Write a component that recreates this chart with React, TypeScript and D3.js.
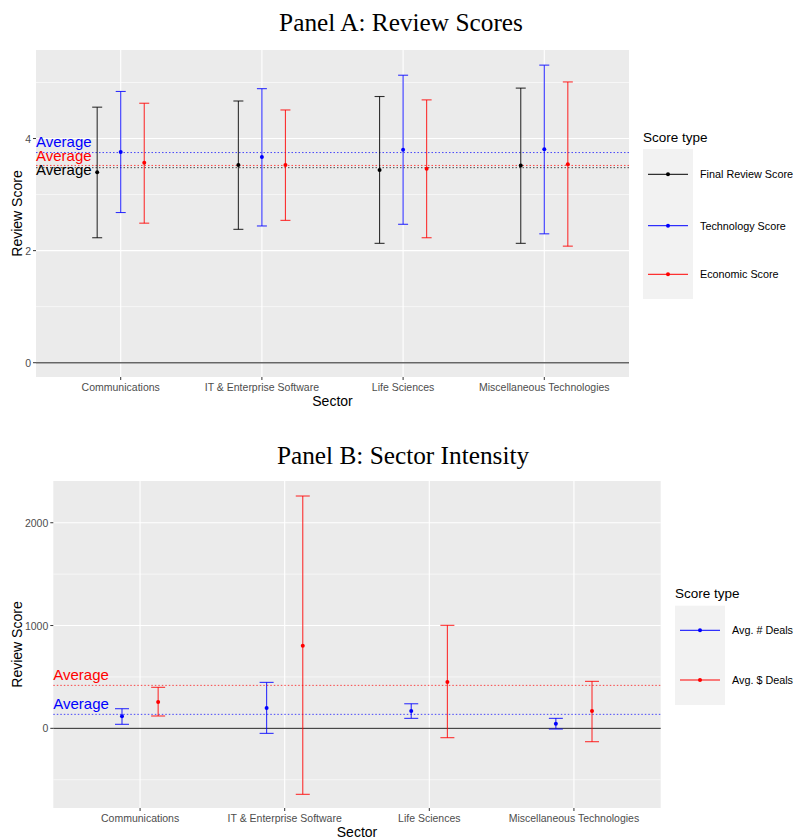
import * as d3 from "d3";
import React from "react";

// sectors on the x axis (both panels)
const sectors = [
  "Communications",
  "IT & Enterprise Software",
  "Life Sciences",
  "Miscellaneous Technologies",
];

// Panel A: review scores (mean, lower, upper)
const scoreTypes = ["Final Review Score", "Technology Score", "Economic Score"];
const scoreColors = ["black", "blue", "red"];
const finalMean = [3.4, 3.53, 3.44, 3.52];
const finalLow = [2.23, 2.38, 2.13, 2.13];
const finalHigh = [4.56, 4.67, 4.75, 4.9];
const techMean = [3.76, 3.67, 3.8, 3.81];
const techLow = [2.68, 2.44, 2.47, 2.3];
const techHigh = [4.84, 4.89, 5.13, 5.31];
const econMean = [3.57, 3.53, 3.46, 3.54];
const econLow = [2.49, 2.54, 2.23, 2.08];
const econHigh = [4.63, 4.51, 4.69, 5.01];
const scoreAverages = [3.48, 3.75, 3.52];
const scoreLabelY = [3.45, 3.95, 3.7];
const scoreTicks = [0, 2, 4];
const scoreMinor = [1, 3, 5];

// Panel B: sector intensity
const dealTypes = ["Avg. # Deals", "Avg. $ Deals"];
const dealColors = ["blue", "red"];
const countMean = [117, 197, 168, 45];
const countLow = [39, -49, 97, -7];
const countHigh = [191, 447, 239, 97];
const dollarMean = [256, 804, 450, 168];
const dollarLow = [120, -642, -91, -130];
const dollarHigh = [399, 2260, 1002, 457];
const dealAverages = [136, 418];
const dealLabelY = [239, 527];
const dealTicks = [0, 1000, 2000];
const dealMinor = [-500, 500, 1500];

type Series = { mean: number[]; low: number[]; high: number[] };

type PanelProps = {
  title: string;
  titleX: number;
  titleY: number;
  left: number;
  right: number;
  top: number;
  bottom: number;
  yDomain: [number, number];
  ticks: number[];
  minor: number[];
  series: Series[];
  colors: string[];
  names: string[];
  offsets: number[];
  cap: number;
  averages: number[];
  labelY: number[];
  zeroColor: string;
  zeroWidth: number;
  legend: { x: number; titleY: number; boxTop: number; boxBottom: number; items: number[] };
};

const sans = "Liberation Sans, Arial, sans-serif";

const Panel = (p: PanelProps) => {
  const x = d3.scaleLinear().domain([-0.6, sectors.length - 0.4]).range([p.left, p.right]);
  const y = d3.scaleLinear().domain(p.yDomain).range([p.bottom, p.top]);
  const fmt = d3.format("d");
  const lg = p.legend;
  return (
    <g>
      <text
        x={p.titleX}
        y={p.titleY}
        textAnchor="middle"
        fontFamily="Liberation Serif, Times New Roman, serif"
        fontSize={25.3}
      >
        {p.title}
      </text>
      <rect x={p.left} y={p.top} width={p.right - p.left} height={p.bottom - p.top} fill="#EBEBEB" />
      {p.minor.map((t) => (
        <line key={"mn" + t} x1={p.left} x2={p.right} y1={y(t)} y2={y(t)} stroke="white" strokeWidth={0.6} />
      ))}
      {p.ticks.map((t) => (
        <line key={"mj" + t} x1={p.left} x2={p.right} y1={y(t)} y2={y(t)} stroke="white" strokeWidth={1.1} />
      ))}
      {sectors.map((s, i) => (
        <line key={"vx" + s} x1={x(i)} x2={x(i)} y1={p.top} y2={p.bottom} stroke="white" strokeWidth={1.1} />
      ))}
      <line x1={p.left} x2={p.right} y1={y(0)} y2={y(0)} stroke={p.zeroColor} strokeWidth={p.zeroWidth} />
      {p.averages.map((a, k) => (
        <line
          key={"avg" + k}
          x1={p.left}
          x2={p.right}
          y1={y(a)}
          y2={y(a)}
          stroke={p.colors[k]}
          strokeOpacity={0.7}
          strokeWidth={1}
          strokeDasharray="1.5,2"
        />
      ))}
      {p.series.map((se, k) =>
        sectors.map((s, i) => {
          const cx = x(i + p.offsets[k]);
          return (
            <g key={"eb" + k + s} stroke={p.colors[k]} strokeOpacity={0.8} strokeWidth={1.1}>
              <line x1={cx} x2={cx} y1={y(se.low[i])} y2={y(se.high[i])} />
              <line x1={cx - p.cap} x2={cx + p.cap} y1={y(se.low[i])} y2={y(se.low[i])} />
              <line x1={cx - p.cap} x2={cx + p.cap} y1={y(se.high[i])} y2={y(se.high[i])} />
              <circle cx={cx} cy={y(se.mean[i])} r={2} fill={p.colors[k]} stroke="none" />
            </g>
          );
        })
      )}
      {p.labelY.map((v, k) => (
        <text
          key={"lab" + k}
          x={p.left}
          y={y(v)}
          dominantBaseline="central"
          fontFamily={sans}
          fontSize={15}
          fill={p.colors[k]}
        >
          Average
        </text>
      ))}
      {p.ticks.map((t) => (
        <g key={"yt" + t}>
          <line x1={p.left - 3} x2={p.left} y1={y(t)} y2={y(t)} stroke="#333" strokeWidth={1} />
          <text
            x={p.left - 5}
            y={y(t)}
            textAnchor="end"
            dominantBaseline="central"
            fontFamily={sans}
            fontSize={10.5}
            fill="#4D4D4D"
          >
            {fmt(t)}
          </text>
        </g>
      ))}
      {sectors.map((s, i) => (
        <g key={"xt" + s}>
          <line x1={x(i)} x2={x(i)} y1={p.bottom} y2={p.bottom + 3} stroke="#333" strokeWidth={1} />
          <text x={x(i)} y={p.bottom + 14} textAnchor="middle" fontFamily={sans} fontSize={10.5} fill="#4D4D4D">
            {s}
          </text>
        </g>
      ))}
      <text x={(p.left + p.right) / 2} y={p.bottom + 29} textAnchor="middle" fontFamily={sans} fontSize={14}>
        Sector
      </text>
      <text
        transform={`translate(22,${(p.top + p.bottom) / 2}) rotate(-90)`}
        textAnchor="middle"
        fontFamily={sans}
        fontSize={14}
      >
        Review Score
      </text>
      <text x={lg.x} y={lg.titleY} fontFamily={sans} fontSize={13.5}>
        Score type
      </text>
      <rect x={lg.x} y={lg.boxTop} width={50} height={lg.boxBottom - lg.boxTop} fill="#F2F2F2" />
      {p.names.map((n, k) => (
        <g key={"lg" + n}>
          <line x1={lg.x + 5} x2={lg.x + 45} y1={lg.items[k]} y2={lg.items[k]} stroke={p.colors[k]} strokeWidth={1} />
          <circle cx={lg.x + 25} cy={lg.items[k]} r={2} fill={p.colors[k]} />
          <text x={lg.x + 57} y={lg.items[k]} dominantBaseline="central" fontFamily={sans} fontSize={10.8}>
            {n}
          </text>
        </g>
      ))}
    </g>
  );
};

export default function App() {
  return (
    <svg width={794} height={839} style={{ position: "absolute", left: 0, top: 0, background: "white" }}>
      <Panel
        title="Panel A: Review Scores"
        titleX={401}
        titleY={31}
        left={36}
        right={629}
        top={50}
        bottom={377}
        yDomain={[-0.255, 5.58]}
        ticks={scoreTicks}
        minor={scoreMinor}
        series={[
          { mean: finalMean, low: finalLow, high: finalHigh },
          { mean: techMean, low: techLow, high: techHigh },
          { mean: econMean, low: econLow, high: econHigh },
        ]}
        colors={scoreColors}
        names={scoreTypes}
        offsets={[-1 / 6, 0, 1 / 6]}
        cap={5}
        averages={scoreAverages}
        labelY={scoreLabelY}
        zeroColor="#666"
        zeroWidth={1.5}
        legend={{ x: 643, titleY: 142, boxTop: 149, boxBottom: 299, items: [174.3, 225.7, 274.3] }}
      />
      <Panel
        title="Panel B: Sector Intensity"
        titleX={403}
        titleY={464}
        left={53.3}
        right={660.7}
        top={481}
        bottom={808}
        yDomain={[-775, 2406]}
        ticks={dealTicks}
        minor={dealMinor}
        series={[
          { mean: countMean, low: countLow, high: countHigh },
          { mean: dollarMean, low: dollarLow, high: dollarHigh },
        ]}
        colors={dealColors}
        names={dealTypes}
        offsets={[-0.125, 0.125]}
        cap={7}
        averages={dealAverages}
        labelY={dealLabelY}
        zeroColor="#222"
        zeroWidth={1}
        legend={{ x: 675, titleY: 598, boxTop: 605.7, boxBottom: 705, items: [630.3, 680] }}
      />
    </svg>
  );
}
